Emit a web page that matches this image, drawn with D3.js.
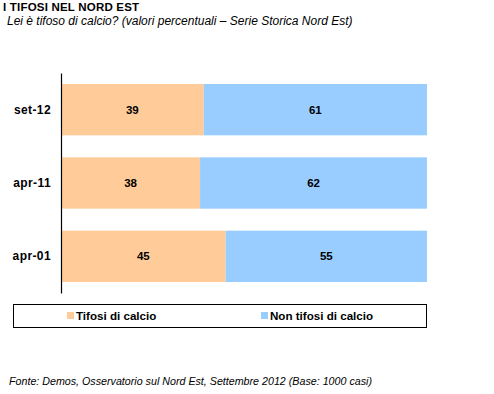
<!DOCTYPE html>
<html>
<head>
<meta charset="utf-8">
<script src="https://cdn.jsdelivr.net/npm/d3@7"></script>
<style>
  body { margin: 0; background: #fff; }
  text { font-family: "Liberation Sans", Arial, sans-serif; }
</style>
</head>
<body>
<div id="chart"></div>
<script>
// Data
var categories = ['set-12', 'apr-11', 'apr-01'];
var tifosi = [39, 38, 45];
var nonTifosi = [61, 62, 55];
var seriesNames = ['Tifosi di calcio', 'Non tifosi di calcio'];
var seriesColors = ['#ffcc99', '#99ccff'];

var width = 494,
  height = 394;

var svg = d3
  .select('#chart')
  .append('svg')
  .attr('width', width)
  .attr('height', height);

// Title block
svg
  .append('text')
  .attr('x', 3)
  .attr('y', 11)
  .style('font-size', '11.5px')
  .style('font-weight', 'bold')
  .style('letter-spacing', '0.2px')
  .text('I TIFOSI NEL NORD EST');

svg
  .append('text')
  .attr('x', 7)
  .attr('y', 25)
  .style('font-size', '12px')
  .style('font-style', 'italic')
  .text('Lei è tifoso di calcio? (valori percentuali – Serie Storica Nord Est)');

// Scales
var x = d3.scaleLinear().domain([0, 100]).range([61, 427]);
var y = d3
  .scaleBand()
  .domain(categories)
  .range([73, 293])
  .paddingInner(0.3)
  .paddingOuter(0.15);

// Stack rows
var rows = categories.map(function (c, i) {
  return { cat: c, values: [tifosi[i], nonTifosi[i]] };
});

var row = svg
  .selectAll('g.row')
  .data(rows)
  .enter()
  .append('g')
  .attr('class', 'row');

row.each(function (d) {
  var g = d3.select(this);
  var start = 0;
  d.values.forEach(function (v, k) {
    g.append('rect')
      .attr('x', x(start))
      .attr('y', y(d.cat))
      .attr('width', x(start + v) - x(start))
      .attr('height', y.bandwidth())
      .attr('fill', seriesColors[k]);
    g.append('text')
      .attr('x', (x(start) + x(start + v)) / 2)
      .attr('y', y(d.cat) + y.bandwidth() / 2)
      .attr('text-anchor', 'middle')
      .attr('dominant-baseline', 'central')
      .style('font-size', '11.5px')
      .style('font-weight', 'bold')
      .text(v);
    start += v;
  });
});

// Category axis
var yAxis = svg
  .append('g')
  .attr('transform', 'translate(' + 61 + ',0)')
  .call(d3.axisLeft(y).tickSize(0).tickPadding(10));
yAxis.select('.domain').attr('stroke', '#000').attr('stroke-width', 1.2);
yAxis
  .selectAll('text')
  .style('font-size', '12px')
  .style('font-weight', 'bold')
  .style('letter-spacing', '0.4px')
  .style('font-family', '"Liberation Sans", Arial, sans-serif')
  .attr('fill', '#000');

// Legend
svg
  .append('rect')
  .attr('x', 13.5)
  .attr('y', 304.5)
  .attr('width', 413)
  .attr('height', 23)
  .attr('fill', 'none')
  .attr('stroke', '#000')
  .attr('stroke-width', 1);

var legendX = [67, 261];
seriesNames.forEach(function (name, k) {
  svg
    .append('rect')
    .attr('x', legendX[k])
    .attr('y', 312)
    .attr('width', 7)
    .attr('height', 7)
    .attr('fill', seriesColors[k]);
  svg
    .append('text')
    .attr('x', legendX[k] + 9)
    .attr('y', 320)
    .style('font-size', '11.6px')
    .style('font-weight', 'bold')
    .text(name);
});

// Footer
svg
  .append('text')
  .attr('x', 9)
  .attr('y', 385)
  .style('font-size', '10.7px')
  .style('font-style', 'italic')
  .text('Fonte: Demos, Osservatorio sul Nord Est, Settembre 2012 (Base: 1000 casi)');
</script>
</body>
</html>
